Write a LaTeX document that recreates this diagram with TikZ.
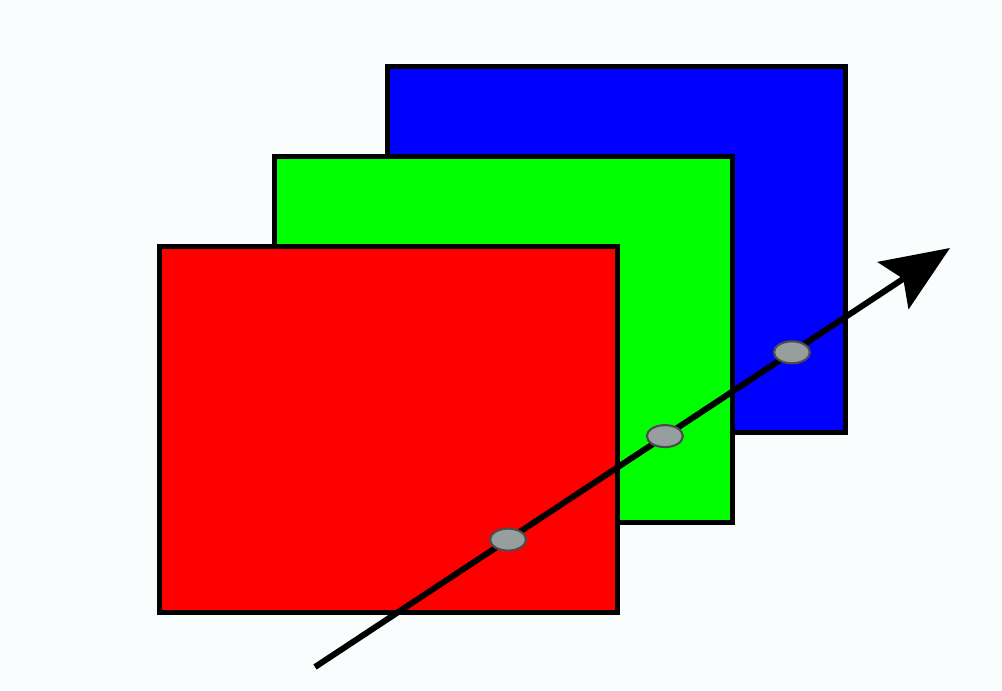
\documentclass[tikz,border=0pt]{standalone}
\usepackage{tikz}
\usetikzlibrary{calc, positioning, shapes.geometric, arrows.meta}
\usepackage{xcolor}
\definecolor{bgcol}{RGB}{249,253,254}
\definecolor{dotgray}{RGB}{150,158,158}

\begin{document}
\begin{tikzpicture}[
        plane/.style={
            rectangle, draw=black, line width=1.5pt,
            minimum width=4.58cm, minimum height=3.66cm, inner sep=0pt
        },
        hit/.style={
            ellipse, draw=black!70, line width=0.6pt, fill=dotgray,
            minimum width=0.36cm, minimum height=0.22cm, inner sep=0pt
        },
        ray/.style={draw, line width=1.7pt, -{Stealth[length=6.8mm, width=5.6mm, inset=1.2mm]}}
    ]

    % Background
    \fill[bgcol] (0, 0) rectangle (10.02, 6.91);
    \useasboundingbox (0, 0) rectangle (10.02, 6.91);

    % Planes
    \node[plane, fill=blue, anchor=south west] (pblue) at (3.85, 2.56) {};
    \node[plane, fill=green, anchor=south west] (pgreen) at (2.72, 1.66) {};
    \node[plane, fill=red, anchor=south west] (pred) at (1.57, 0.76) {};

    % Ray
    \coordinate (start) at (3.15, 0.24);
    \coordinate (tip) at (9.50, 4.43);
    \draw[ray] (start) -- (tip);

    % Intersections
    \node[hit] (hred) at ($(start)!0.304!(tip)$) {};
    \node[hit] (hgreen) at ($(start)!0.551!(tip)$) {};
    \node[hit] (hblue) at ($(start)!0.751!(tip)$) {};

\end{tikzpicture}
\end{document}
